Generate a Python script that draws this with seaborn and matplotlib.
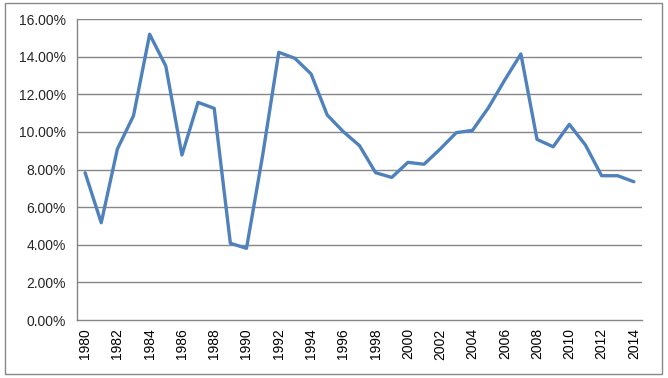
import numpy as np
import pandas as pd
import seaborn as sns
import matplotlib.pyplot as plt
from matplotlib.patches import Rectangle
from matplotlib.ticker import FixedLocator, FuncFormatter

years = list(range(1980, 2015))
rates = [7.83, 5.17, 9.09, 10.86, 15.19, 13.50, 8.77, 11.57, 11.25, 4.08,
         3.81, 8.75, 14.23, 13.91, 13.08, 10.90, 10.01, 9.27, 7.83, 7.58,
         8.38, 8.28, 9.09, 9.96, 10.08, 11.30, 12.76, 14.14, 9.60, 9.21,
         10.40, 9.30, 7.67, 7.67, 7.35]
y_ticks = [0, 2, 4, 6, 8, 10, 12, 14, 16]

df = pd.DataFrame({'year': years, 'rate': rates})

sns.set_style("white")
plt.rcParams['font.family'] = ['Liberation Sans', 'DejaVu Sans']

fig = plt.figure(figsize=(6.68, 3.78), dpi=100)
ax = fig.add_axes([0.1153, 0.1534, 0.961 - 0.1153, 0.9497 - 0.1534])

grid_col = '#868686'

sns.lineplot(data=df, x='year', y='rate', ax=ax, color='#4F81BD', linewidth=2.4)

ax.set_xlim(1979.5, 2014.5)
ax.set_ylim(0, 16)
ax.set_yticks(y_ticks)
ax.yaxis.set_major_formatter(FuncFormatter(lambda v, p: f'{v:.2f}%'))
for v in y_ticks[1:]:
    ax.axhline(v, color=grid_col, linewidth=1, zorder=0)

# boundary ticks every two categories, labels at category centres
ax.xaxis.set_major_locator(FixedLocator([1979.5 + 2 * k for k in range(18)]))
ax.xaxis.set_minor_locator(FixedLocator(years[::2]))
ax.set_xticklabels([], minor=False)
ax.set_xticklabels([str(y) for y in years[::2]], minor=True, rotation=90)
ax.tick_params(axis='x', which='major', length=5, width=1, color=grid_col, direction='out')
ax.tick_params(axis='x', which='minor', length=0, pad=6, labelsize=10, colors='black')
ax.tick_params(axis='y', length=5, width=1, color=grid_col, direction='out', labelsize=10, pad=3)

ax.set_xlabel('')
ax.set_ylabel('')
for s in ['top', 'right']:
    ax.spines[s].set_visible(False)
for s in ['left', 'bottom']:
    ax.spines[s].set_color(grid_col)
    ax.spines[s].set_linewidth(1)

# outer chart border
fig.patches.append(Rectangle((4.5 / 668, 1 - 373.5 / 378), 657 / 668, 371 / 378,
                             transform=fig.transFigure, fill=False,
                             edgecolor='#888888', linewidth=1))

fig.savefig('out.png', dpi=100)
